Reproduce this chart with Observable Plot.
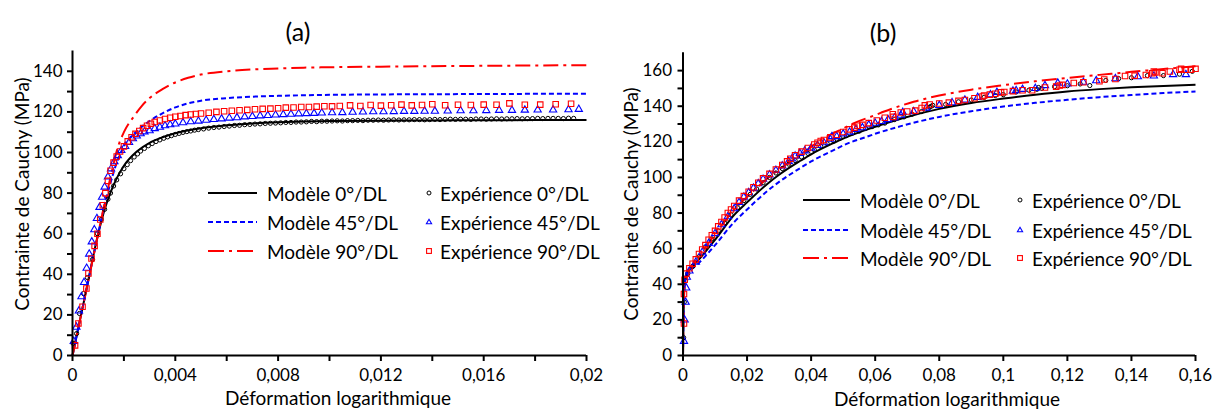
<!DOCTYPE html>
<html><head><meta charset="utf-8">
<script src="https://cdn.jsdelivr.net/npm/d3@7"></script>
<script src="https://cdn.jsdelivr.net/npm/@observablehq/plot@0.6"></script>
<style>
body{margin:0;background:#fff;}
#wrap{position:relative;width:1217px;height:410px;overflow:hidden;font-family:Lato,sans-serif;color:#000;background:#fff;}
.t{position:absolute;white-space:nowrap;line-height:1;}
.title{font-size:25px;transform:translate(-50%,-50%);}
.xlab{font-size:19px;transform:translate(-50%,-50%);}
.ylab{font-size:19px;transform:translate(-50%,-50%) rotate(-90deg);}
.leg{font-size:19px;transform:translate(0,-50%);}
</style></head><body><div id="wrap"></div>
<script>
// ---------- DATA ----------
const panelTitles = ["(a)", "(b)"];
const xTitle = "Déformation logarithmique";
const yTitle = "Contrainte de Cauchy (MPa)";
const modelNames = ["Modèle 0°/DL", "Modèle 45°/DL", "Modèle 90°/DL"];
const expNames = ["Expérience 0°/DL", "Expérience 45°/DL", "Expérience 90°/DL"];

// panel (a) ticks
const xMajA = [0, 0.004, 0.008, 0.012, 0.016, 0.02];
const xMajTextA = ["0", "0,004", "0,008", "0,012", "0,016", "0,02"];
const xMinA = [0.002, 0.006, 0.01, 0.014, 0.018];
const yMajA = [0, 20, 40, 60, 80, 100, 120, 140];
const yMajTextA = ["0", "20", "40", "60", "80", "100", "120", "140"];
const yMinA = [10, 30, 50, 70, 90, 110, 130];
// panel (b) ticks
const xMajB = [0, 0.02, 0.04, 0.06, 0.08, 0.1, 0.12, 0.14, 0.16];
const xMajTextB = ["0", "0,02", "0,04", "0,06", "0,08", "0,1", "0,12", "0,14", "0,16"];
const yMajB = [0, 20, 40, 60, 80, 100, 120, 140, 160];
const yMajTextB = ["0", "20", "40", "60", "80", "100", "120", "140", "160"];
const yMinB = [10, 30, 50, 70, 90, 110, 130, 150];

// panel (a) models
const modelA0 = [[0,0],[0.0005,30],[0.001,60],[0.00125,72],[0.0015,81],[0.00175,88],[0.002,93.5],[0.0025,100.5],[0.003,104.8],[0.0035,107.5],[0.004,109.5],[0.005,112],[0.006,113.4],[0.007,114.3],[0.008,114.9],[0.009,115.3],[0.01,115.5],[0.012,115.7],[0.014,115.8],[0.016,115.9],[0.02,116]];
const modelA45 = [[0,0],[0.0005,30],[0.001,60],[0.00125,74],[0.0015,86],[0.00175,96],[0.002,103],[0.0025,110.5],[0.003,115.5],[0.0035,119.3],[0.004,122.2],[0.0045,124.2],[0.005,125.5],[0.006,126.8],[0.007,127.5],[0.008,127.9],[0.009,128.2],[0.01,128.4],[0.012,128.6],[0.016,128.8],[0.02,129]];
const modelA90 = [[0,0],[0.0005,30],[0.001,60],[0.00125,75],[0.0015,89],[0.00175,102],[0.002,110],[0.0024,118],[0.0027,123],[0.003,126.8],[0.0035,131.2],[0.004,134.5],[0.0045,136.8],[0.005,138.4],[0.006,140],[0.007,140.9],[0.008,141.4],[0.009,141.8],[0.01,142],[0.012,142.3],[0.016,142.7],[0.02,143]];
// panel (a) experiments
const expA0 = [[0.00002,6],[0.00016,10.8],[0.00027,20.7],[0.00043,30.5],[0.00058,38.4],[0.00078,47.3],[0.00097,60],[0.00112,67],[0.00125,72],[0.00138,77],[0.00148,80],[0.0016,83.5],[0.00172,86.5],[0.00187,89.5],[0.002,92],[0.00213,94],[0.00226,96],[0.0024,97.8],[0.00253,99.3],[0.00265,100.7],[0.0028,102],[0.00295,103.3],[0.0031,104.4],[0.00325,105.4],[0.0034,106.2],[0.00355,107],[0.0037,107.7],[0.00385,108.3],[0.004,108.9],[0.00415,109.4],[0.0043,109.9],[0.00445,110.3],[0.0046,110.6],[0.00475,111],[0.0049,111.3],[0.0051,111.6],[0.0053,112],[0.0055,112.3],[0.0057,112.5],[0.0059,112.8],[0.0061,113],[0.0063,113.3],[0.0065,113.4],[0.0067,113.7],[0.0069,113.8],[0.0071,114],[0.0073,114.1],[0.0075,114.3],[0.0077,114.4],[0.0079,114.5],[0.0081,114.6],[0.0083,114.8],[0.0085,114.8],[0.0087,115],[0.0089,115],[0.0091,115.1],[0.0093,115.3],[0.0095,115.2],[0.0097,115.4],[0.0099,115.4],[0.0101,115.5],[0.0103,115.6],[0.0105,115.5],[0.0107,115.7],[0.0109,115.7],[0.0111,115.8],[0.0113,115.7],[0.0115,115.9],[0.0117,115.9],[0.0119,116],[0.0121,115.9],[0.0123,116],[0.0125,116.1],[0.0127,116],[0.0129,116.1],[0.0131,116.1],[0.0133,116.2],[0.0135,116.2],[0.0137,116.1],[0.0139,116.2],[0.0141,116.3],[0.0143,116.2],[0.0145,116.3],[0.0147,116.4],[0.0149,116.3],[0.0151,116.4],[0.0153,116.4],[0.0155,116.3],[0.0157,116.5],[0.0159,116.5],[0.0161,116.4],[0.0163,116.5],[0.0165,116.6],[0.0167,116.5],[0.0169,116.6],[0.0171,116.6],[0.0173,116.7],[0.0175,116.6],[0.0177,116.7],[0.0179,116.7],[0.0181,116.8],[0.0183,116.7],[0.0185,116.8],[0.0187,116.8],[0.0189,116.8],[0.0191,116.7],[0.0193,116.9],[0.0195,116.8]];
const expA45 = [[0.00005,7],[0.00015,14],[0.00025,22],[0.00035,29],[0.00045,36],[0.00055,43],[0.00065,50],[0.00075,56],[0.00085,62],[0.00095,67.5],[0.00105,73],[0.00115,78],[0.00125,83],[0.00138,88],[0.0015,92],[0.00163,95.5],[0.00176,98.5],[0.0019,101],[0.00205,103],[0.0022,105],[0.00235,106.8],[0.0025,108.2],[0.00265,109.3],[0.0028,110.2],[0.003,110.8],[0.0032,111.8],[0.0034,112.5],[0.0036,113.2],[0.0038,113.7],[0.004,114.1],[0.0043,114.7],[0.0046,115.2],[0.0049,115.5],[0.0052,115.9],[0.0055,116.3],[0.0058,116.6],[0.0061,117],[0.0064,117.2],[0.0067,117.6],[0.007,117.8],[0.0073,118.1],[0.0076,118.3],[0.0079,118.5],[0.0082,118.7],[0.0085,118.9],[0.0088,119.1],[0.0091,119.2],[0.0094,119.3],[0.0097,119.5],[0.0101,119.6],[0.0105,119.7],[0.0109,119.9],[0.0113,120],[0.0117,120.1],[0.0121,120.1],[0.0125,120.2],[0.0129,120.3],[0.0133,120.3],[0.0137,120.4],[0.0141,120.4],[0.0146,120.5],[0.0151,120.6],[0.0156,120.6],[0.0161,120.7],[0.0166,120.8],[0.0171,120.8],[0.0176,120.9],[0.0181,121],[0.0187,121],[0.0193,121.1],[0.0197,121.3]];
const expA90 = [[0.0001,5],[0.00023,15.8],[0.00039,24],[0.00054,33],[0.00062,40.4],[0.00074,47.8],[0.00086,54],[0.00097,60],[0.00108,67],[0.00118,74],[0.00128,80],[0.00138,86],[0.00148,91],[0.0016,95],[0.00172,98],[0.00185,100.5],[0.002,103],[0.00215,105.5],[0.0023,107.5],[0.00245,109.2],[0.0026,110.6],[0.00275,112],[0.0029,113.2],[0.00305,114.2],[0.0032,115],[0.0034,115.8],[0.0036,116.5],[0.0038,117.1],[0.004,117.6],[0.0042,118],[0.0044,118.4],[0.0046,118.7],[0.0048,119],[0.005,119.2],[0.0053,119.6],[0.0056,120],[0.0059,120.3],[0.0062,120.6],[0.0065,120.8],[0.0068,121],[0.0071,121.3],[0.0074,121.5],[0.0077,121.6],[0.008,121.8],[0.0083,122.1],[0.0086,122.2],[0.0089,122.4],[0.0092,122.4],[0.0095,122.6],[0.0098,122.8],[0.0101,122.7],[0.0104,122.9],[0.0108,123.2],[0.0112,122.9],[0.0116,123.4],[0.012,123.1],[0.0124,123.3],[0.0128,123.6],[0.0132,123.2],[0.0136,123.4],[0.014,123.8],[0.0145,123.3],[0.015,123.5],[0.0155,123.4],[0.016,123.6],[0.0165,123.5],[0.017,124.2],[0.0176,123.5],[0.0182,123.6],[0.0188,123.8],[0.0194,124]];

// panel (b) models
const modelB0 = [[0,0],[0.0002,25],[0.0005,40],[0.001,45],[0.002,48],[0.005,54],[0.01,65],[0.016,79],[0.02,86],[0.0264,96.5],[0.03,101.5],[0.0368,109.5],[0.04,113],[0.0472,119.5],[0.05,121.8],[0.0576,127],[0.06,128.5],[0.068,133],[0.08,138.5],[0.09,141.8],[0.1,144.3],[0.11,146.5],[0.12,148.3],[0.13,149.6],[0.14,150.6],[0.15,151.4],[0.16,152.1]];
const modelB45 = [[0,0],[0.0002,25],[0.0005,39],[0.001,44],[0.002,47],[0.005,52],[0.01,62],[0.016,75],[0.02,82],[0.0264,92.5],[0.03,97.5],[0.0368,105.5],[0.04,109],[0.0472,115.5],[0.05,118],[0.0576,123],[0.06,124.5],[0.068,128.8],[0.08,134],[0.09,137.2],[0.1,139.8],[0.11,141.9],[0.12,143.6],[0.13,145.1],[0.14,146.3],[0.15,147.4],[0.16,148.3]];
const modelB90 = [[0,0],[0.0002,25],[0.0005,40],[0.001,45.5],[0.002,48.5],[0.005,56],[0.01,68],[0.016,82],[0.02,89],[0.0264,99.5],[0.03,104.5],[0.0368,113],[0.043,121],[0.05,127.5],[0.0534,130.5],[0.06,135],[0.0628,137],[0.072,142.5],[0.08,146],[0.09,149.3],[0.1,151.8],[0.11,154],[0.12,155.9],[0.13,157.6],[0.14,159.3],[0.15,160.9],[0.16,162.5]];
// panel (b) experiments
const expB0 = [[0.0002,10],[0.0004,30],[0.0008,42],[0.0015,46],[0.003,50],[0.005,55.5],[0.007,61],[0.009,65.5],[0.011,70],[0.013,74.5],[0.015,79],[0.017,83],[0.019,87],[0.021,90.5],[0.023,93.5],[0.025,97],[0.027,100],[0.029,102.5],[0.031,105],[0.033,107.5],[0.035,109.5],[0.037,111.5],[0.039,113.5],[0.041,115.5],[0.043,117.5],[0.045,119],[0.047,120.5],[0.049,122],[0.051,123.5],[0.053,125],[0.055,126],[0.057,127.5],[0.059,128.5],[0.061,129.5],[0.063,130.5],[0.066,132.5],[0.069,134],[0.0715,135.5],[0.0745,137],[0.0765,138.5],[0.077,139.5],[0.0775,140],[0.078,140.5],[0.082,141],[0.086,142.5],[0.09,143.5],[0.094,145],[0.0975,146],[0.1,146.5],[0.104,148],[0.108,149],[0.1105,149.5],[0.111,150.5],[0.112,150],[0.116,151],[0.12,151.5],[0.124,152.5],[0.127,151.6],[0.132,154.5],[0.136,155.5],[0.14,156],[0.145,157.2],[0.15,157.2],[0.155,158],[0.159,159.6]];
const expB45 = [[0.0003,8],[0.0005,20],[0.0008,30],[0.001,38],[0.0012,44],[0.002,47.5],[0.004,52.5],[0.006,58],[0.008,63],[0.01,68.5],[0.012,73.5],[0.014,78],[0.016,82.5],[0.0175,86],[0.019,89],[0.0205,91.5],[0.022,94],[0.0235,96.5],[0.025,99],[0.027,101.5],[0.029,104],[0.031,106.5],[0.033,109],[0.034,110.5],[0.035,112],[0.0365,113.5],[0.038,115],[0.04,116.5],[0.042,118],[0.044,119.5],[0.046,121.5],[0.0465,123],[0.048,123],[0.05,124.5],[0.052,125.5],[0.054,127],[0.056,128],[0.058,129.5],[0.06,130.5],[0.062,131.5],[0.064,132.5],[0.066,133.5],[0.068,135],[0.0686,136.6],[0.072,137],[0.076,139],[0.08,140.5],[0.084,142],[0.088,143.5],[0.092,145],[0.096,146.5],[0.098,147.8],[0.103,148.5],[0.104,148.8],[0.106,149.5],[0.11,150],[0.113,151.6],[0.117,153],[0.12,152.5],[0.125,153.5],[0.129,154.4],[0.135,155.5],[0.142,156.6],[0.147,157],[0.153,157.8],[0.157,157.8]];
const expB90 = [[0.0003,18],[0.0003,34.5],[0.0005,42.5],[0.001,46],[0.002,49],[0.003,51.5],[0.004,54],[0.005,57],[0.006,59.5],[0.007,62],[0.008,65],[0.009,67.5],[0.01,70],[0.011,72.5],[0.012,75],[0.013,77.5],[0.014,80],[0.015,82],[0.016,84],[0.0175,87],[0.019,89.5],[0.0205,92],[0.022,94.5],[0.0235,97],[0.025,99.5],[0.027,102],[0.029,104.5],[0.031,107],[0.0325,109],[0.0335,110.5],[0.035,112.5],[0.037,114.5],[0.039,116.5],[0.041,118.5],[0.042,119.5],[0.043,120.5],[0.044,121],[0.046,122.5],[0.048,124],[0.05,125.5],[0.052,127],[0.0535,128],[0.0545,129],[0.056,129.5],[0.058,130.5],[0.0605,132],[0.063,133.5],[0.0655,135.5],[0.0657,134],[0.068,136.5],[0.07,137],[0.0725,137.5],[0.0745,139],[0.0755,140.5],[0.077,141],[0.08,141.5],[0.083,142],[0.086,143],[0.088,143.5],[0.091,144.5],[0.0935,145.5],[0.094,146],[0.0958,146.5],[0.0975,147],[0.0993,147.8],[0.1003,148],[0.103,148.5],[0.106,149],[0.109,149],[0.113,150.5],[0.1165,151],[0.1176,151.6],[0.1185,152],[0.122,153],[0.125,153.5],[0.13,154],[0.1315,155],[0.135,155.3],[0.138,157],[0.141,157.2],[0.1445,157.5],[0.1465,158.5],[0.147,159.5],[0.1475,159],[0.1497,158.5],[0.152,159.5],[0.155,160.5],[0.1555,161],[0.157,160.5],[0.1585,160.5],[0.16,161]];

// ---------- DRAWING ----------
const H = 410;
const wrap = document.getElementById("wrap");
const BLUE = "#0000ff", RED = "#ff0000", BLACK = "#000000";
const DASH45 = "5,3", DASH90 = "15,5,3,5";

function fmtFrom(vals, texts) {
  const m = new Map(vals.map((v, i) => [Math.round(v * 1e6), texts[i]]));
  return d => m.get(Math.round(d * 1e6)) ?? "";
}

function panel(o) {
  const xy = {x: d => d[0], y: d => d[1]};
  const lineOpts = {...xy, strokeWidth: 2, strokeLinecap: "butt", curve: "monotone-x"};
  const marks = [
    Plot.line(o.models[0], {...lineOpts, stroke: BLACK}),
    Plot.line(o.models[1], {...lineOpts, stroke: BLUE, strokeDasharray: DASH45}),
    Plot.line(o.models[2], {...lineOpts, stroke: RED, strokeDasharray: DASH90}),
    Plot.dot(o.exps[0], {...xy, symbol: "circle", r: 2.1, stroke: BLACK, strokeWidth: 1, fill: "none"}),
    Plot.dot(o.exps[1], {...xy, symbol: "triangle", r: 2.7, stroke: BLUE, strokeWidth: 1.1, fill: "none"}),
    Plot.dot(o.exps[2], {...xy, symbol: "square", r: 3.1, stroke: RED, strokeWidth: 1.1, fill: "none"}),
    Plot.ruleX([0], {stroke: BLACK, strokeWidth: 2}),
    Plot.ruleY([0], {stroke: BLACK, strokeWidth: 2}),
    Plot.axisX(o.xMaj, {tickFormat: fmtFrom(o.xMaj, o.xMajText), tickSize: 6, tickPadding: 7, strokeWidth: 2, label: null, fontSize: 17}),
    Plot.axisY(o.yMaj, {tickFormat: fmtFrom(o.yMaj, o.yMajText), tickSize: 5, tickPadding: o.padY, strokeWidth: 2, label: null, fontSize: 17}),
    Plot.axisY(o.yMin, {tickFormat: () => "", tickSize: 5, strokeWidth: 2, label: null})
  ];
  if (o.xMin) marks.push(Plot.axisX(o.xMin, {tickFormat: () => "", tickSize: 6, strokeWidth: 2, label: null}));
  const chart = Plot.plot({
    width: o.width, height: H,
    marginLeft: o.ml, marginRight: o.mr, marginTop: o.mt, marginBottom: 55,
    x: {domain: o.xDomain}, y: {domain: o.yDomain},
    style: {fontFamily: "Lato, sans-serif", fontSize: "17px", color: "#000", background: "transparent", overflow: "visible"},
    marks
  });
  chart.style.position = "absolute";
  chart.style.left = o.left + "px";
  chart.style.top = "0px";
  wrap.appendChild(chart);
}

panel({left: 0, width: 600, ml: 72, mr: 14, mt: 50.5, xDomain: [0, 0.02], yDomain: [0, 150],
  xMaj: xMajA, xMajText: xMajTextA, xMin: xMinA, yMaj: yMajA, yMajText: yMajTextA, yMin: yMinA, padY: 5,
  models: [modelA0, modelA45, modelA90], exps: [expA0, expA45, expA90]});
panel({left: 600, width: 617, ml: 82.5, mr: 22, mt: 52.3, xDomain: [0, 0.16], yDomain: [0, 170],
  xMaj: xMajB, xMajText: xMajTextB, xMin: null, yMaj: yMajB, yMajText: yMajTextB, yMin: yMinB, padY: 6,
  models: [modelB0, modelB45, modelB90], exps: [expB0, expB45, expB90]});

function addText(cls, txt, x, y) {
  const d = document.createElement("div");
  d.className = "t " + cls; d.textContent = txt;
  d.style.left = x + "px"; d.style.top = y + "px";
  wrap.appendChild(d);
}
addText("title", panelTitles[0], 298, 31);
addText("title", panelTitles[1], 883, 32);
addText("xlab", xTitle, 338, 397);
addText("xlab", xTitle, 947, 398);
addText("ylab", yTitle, 21, 194);
addText("ylab", yTitle, 630, 204);

// legends
const NS = "http://www.w3.org/2000/svg";
function swatch(x, y, w, h, draw) {
  const s = document.createElementNS(NS, "svg");
  s.setAttribute("width", w); s.setAttribute("height", h);
  s.style.position = "absolute"; s.style.left = x + "px"; s.style.top = (y - h / 2) + "px"; s.style.overflow = "visible";
  s.innerHTML = draw;
  wrap.appendChild(s);
}
function legend(L) {
  const styles = [
    `stroke="${BLACK}" stroke-width="2"`,
    `stroke="${BLUE}" stroke-width="2" stroke-dasharray="${DASH45}"`,
    `stroke="${RED}" stroke-width="2" stroke-dasharray="16,5,3,5"`
  ];
  const syms = [
    `<circle cx="5" cy="5" r="2" fill="none" stroke="${BLACK}" stroke-width="1"/>`,
    `<path d="M5,2.3L7.6,6.8H2.4Z" fill="none" stroke="${BLUE}" stroke-width="1.1"/>`,
    `<rect x="2.6" y="2.6" width="4.8" height="4.8" fill="none" stroke="${RED}" stroke-width="1.1"/>`
  ];
  L.rows.forEach((y, i) => {
    swatch(L.lx0, y, L.lx1 - L.lx0, 4, `<line x1="0" y1="2" x2="${L.lx1 - L.lx0}" y2="2" ${styles[i]}/>`);
    addText("leg", modelNames[i], L.tx1, y);
    swatch(L.mx - 5, y, 10, 10, syms[i]);
    addText("leg", expNames[i], L.tx2, y);
  });
}
legend({lx0: 208, lx1: 257, tx1: 267, mx: 429, tx2: 440, rows: [193, 222, 251]});
legend({lx0: 803, lx1: 850, tx1: 860, mx: 1020, tx2: 1032, rows: [200, 229.5, 258]});
</script></body></html>
